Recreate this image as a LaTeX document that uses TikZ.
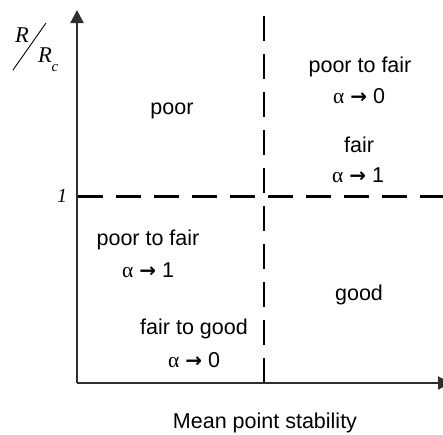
\documentclass[tikz,border=0pt]{standalone}
\usepackage{fontspec}
\setmainfont{Liberation Sans}
\newfontfamily\serifit{Liberation Serif}
\newfontfamily\arrowfont{DejaVu Sans}
\usetikzlibrary{arrows.meta}
\newcommand{\alto}[1]{{\serifit α}\ {\arrowfont\bfseries\fontsize{20}{20}\selectfont →}\ #1}
\begin{document}
\begin{tikzpicture}[x=1pt,y=-1pt,
  axis/.style={line width=2pt,draw=black!82,-{Triangle[length=13pt,width=13pt]}},
  divider/.style={line width=2.4pt,dash pattern=on 25pt off 13pt},
  lbl/.style={font=\fontsize{21.5}{24}\selectfont,align=center,inner sep=0pt,anchor=base},
  ital/.style={font=\fontsize{22.5}{24}\selectfont\serifit\itshape,inner sep=0pt}]
\useasboundingbox (0,0) rectangle (443,434);
\coordinate (O) at (77,383);
\coordinate (ytop) at (77,10);
\coordinate (xend) at (451,383);
\coordinate (vtop) at (264,16);
\coordinate (vbot) at (264,385);
\coordinate (hl) at (78,196.5);
\coordinate (hr) at (443,196.5);
\draw[divider] (vtop) -- (vbot);
\draw[divider] (hl) -- (hr);
\draw[axis] (O) -- (ytop);
\draw[axis] (O) -- (xend);
% R / R_c
\node[ital] (rnum) at (22,35) {R};
\node[ital] (rden) at (45,55) {R};
\node[ital,font=\fontsize{15}{16}\selectfont\serifit\itshape] (rsub) at (55,68) {c};
\coordinate (s1) at (13,70);
\coordinate (s2) at (46,23);
\draw[line width=0.9pt] (s1) -- (s2);
\node[ital,font=\fontsize{20}{22}\selectfont\serifit\itshape] (one) at (62,196) {1};
\node[lbl] (poor) at (172,114) {poor};
\node[lbl] (ptf1) at (360,72) {poor to fair};
\node[lbl] (a1) at (359,103) {\alto{0}};
\node[lbl] (fair) at (359,152) {fair};
\node[lbl] (a2) at (358,182) {\alto{1}};
\node[lbl] (ptf2) at (148,245) {poor to fair};
\node[lbl] (a3) at (148,277) {\alto{1}};
\node[lbl] (good) at (359,300) {good};
\node[lbl] (ftg) at (194,334) {fair to good};
\node[lbl] (a4) at (194,367) {\alto{0}};
\node[lbl] (xlab) at (265,428) {Mean point stability};
\end{tikzpicture}
\end{document}
